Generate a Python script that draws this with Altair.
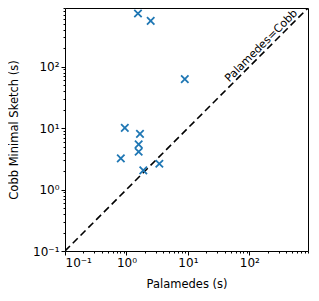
import altair as alt
import pandas as pd

# Data
palamedes = [1.54, 2.48, 8.9, 0.94, 1.66, 1.58, 1.58, 0.81, 1.88, 3.43]
cobb = [733, 556, 62.6, 10.1, 8.07, 5.43, 4.12, 3.21, 2.05, 2.63]
diag = [0.1, 900]
major_ticks = [0.1, 1, 10, 100]
minor_ticks = [m * d for d in [0.1, 1, 10, 100] for m in range(2, 10)]
label_text = ["Palamedes=Cobb"]
label_pos = [185]

pts = pd.DataFrame({"x": palamedes, "y": cobb})
line_df = pd.DataFrame({"x": diag, "y": diag})
txt_df = pd.DataFrame({"x": label_pos, "y": label_pos, "t": label_text})

FONT = "DejaVu Sans"
DOMAIN = [0.1, 900]
tick_vals = sorted(major_ticks + minor_ticks)
major_test = "datum.value == 0.1 || datum.value == 1 || datum.value == 10 || datum.value == 100"
label_expr = ("datum.value == 0.1 ? '10⁻¹' : datum.value == 1 ? '10⁰' : "
              "datum.value == 10 ? '10¹' : datum.value == 100 ? '10²' : ''")


def make_axis(title, title_pad):
    return alt.Axis(
        title=title,
        values=tick_vals,
        labelExpr=label_expr,
        labelOverlap=False,
        grid=False,
        domain=False,
        tickColor="black",
        tickWidth=1,
        tickSize={"condition": {"test": major_test, "value": 4}, "value": 2},
        labelPadding=2,
        labelFont=FONT,
        labelFontSize=12,
        labelColor="black",
        titleFont=FONT,
        titleFontSize=11.5,
        titleFontWeight="normal",
        titleColor="black",
        titlePadding=title_pad,
    )


xs = alt.Scale(type="log", domain=DOMAIN, nice=False)
ys = alt.Scale(type="log", domain=DOMAIN, nice=False)

line = alt.Chart(line_df).mark_line(
    color="black", strokeDash=[7, 4], strokeWidth=1.6, clip=True
).encode(
    x=alt.X("x:Q", scale=xs, axis=make_axis("Palamedes (s)", 10)),
    y=alt.Y("y:Q", scale=ys, axis=make_axis("Cobb Minimal Sketch (s)", 13)),
)

points = alt.Chart(pts).mark_point(
    shape="M-1,-1L1,1M-1,1L1,-1",
    filled=False,
    stroke="#1f77b4",
    strokeWidth=1.8,
    size=55,
    opacity=1,
).encode(
    x=alt.X("x:Q", scale=xs),
    y=alt.Y("y:Q", scale=ys),
)

text = alt.Chart(txt_df).mark_text(
    angle=315,
    align="center",
    baseline="bottom",
    font=FONT,
    fontSize=11,
    color="black",
    dy=-1,
).encode(
    x=alt.X("x:Q", scale=xs),
    y=alt.Y("y:Q", scale=ys),
    text="t:N",
)

chart = alt.layer(line, points, text).properties(
    width=243,
    height=243,
    padding={"left": 57, "top": 0, "right": 3, "bottom": 42},
    autosize=alt.AutoSizeParams(type="none"),
).configure_view(stroke="black", strokeWidth=1)

chart.save("out.html", embed_options={"renderer": "svg", "actions": False})
